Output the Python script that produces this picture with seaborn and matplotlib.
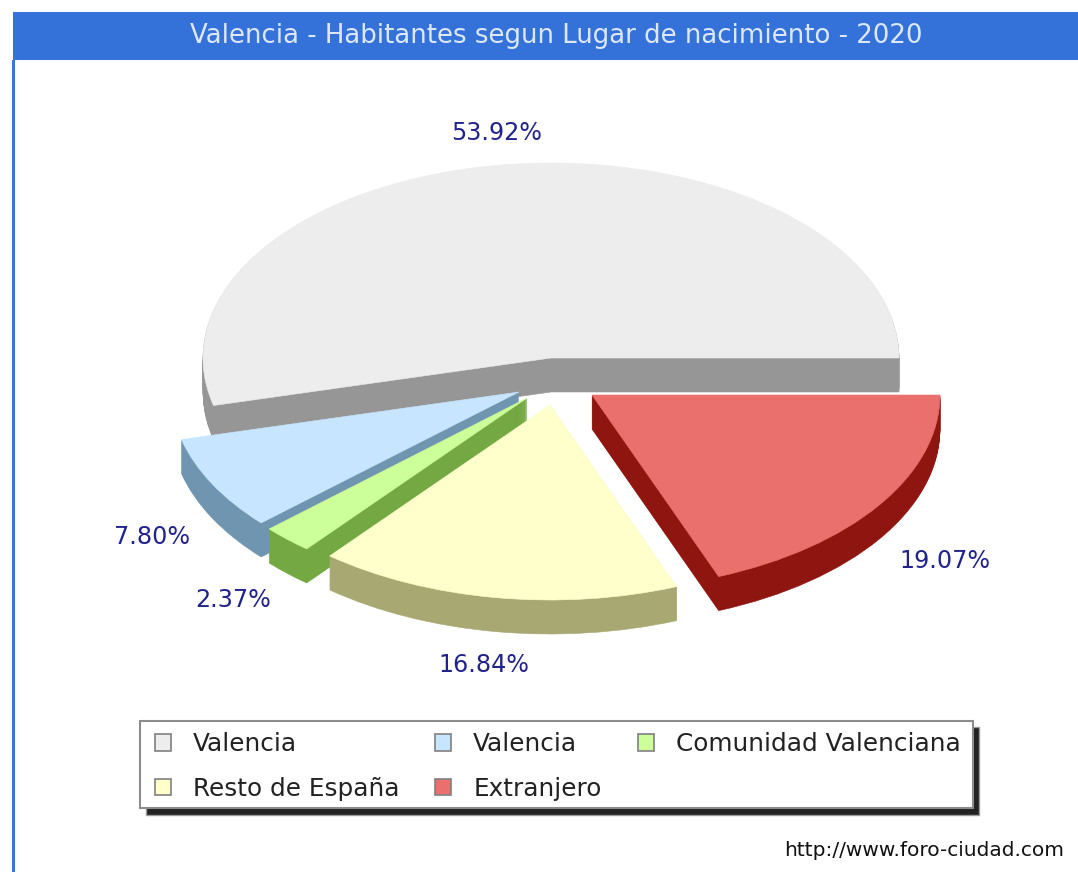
"""
Valencia - habitantes segun lugar de nacimiento, 3D looking pie
"""

import matplotlib
matplotlib.use("Agg")
import matplotlib.pyplot as plt
from matplotlib.patches import Rectangle
import seaborn as sns

TITLE = "Valencia - Habitantes segun Lugar de nacimiento - 2020"
categories = ["Valencia", "Valencia", "Comunidad Valenciana", "Resto de España", "Extranjero"]
values = [53.92, 7.80, 2.37, 16.84, 19.07]

top_colors = ["#EDEDED", "#C8E5FF", "#CCFF99", "#FFFFCC", "#E9706C"]
side_colors = ["#969696", "#7095B0", "#74A843", "#A8A872", "#8F1510"]

W, H = 1078, 872
CX, CY = 551, 358      # pixel position of the un-exploded pie centre
RX, RY = 348, 195      # ellipse radii in pixels
DEPTH = 34

# pixel position of each slice tip, label centres
tips = [(551, 358), (519, 392), (527, 398), (550, 405), (592, 395)]
label_pos = [(497, 133), (152, 537), (233, 600), (484, 665), (945, 561)]

sns.set_theme(style="white")
plt.rcParams["font.family"] = ["DejaVu Sans"]

fig = plt.figure(figsize=(W / 100, H / 100), dpi=100, facecolor="white")
ax = fig.add_axes([0, 0, 1, 1])


def add_box(x0, y0, x1, y1, **kw):
    fig.add_artist(Rectangle((x0 / W, 1 - y1 / H), (x1 - x0) / W, (y1 - y0) / H,
                             transform=fig.transFigure, **kw))


offsets = [((x - CX) / RX, (CY - y) / RY) for x, y in tips]

# stack of dark pies for the extruded sides, then the top faces
for d in range(DEPTH, -1, -1):
    colors = sns.color_palette(top_colors if d == 0 else side_colors)
    wedges, _ = ax.pie(values, colors=colors, startangle=0, counterclock=True,
                       wedgeprops={"linewidth": 0})
    for i, w in enumerate(wedges):
        w.set_center((offsets[i][0], offsets[i][1] - d / RY))
        w.set_zorder(i + 1 + (0.5 if d == 0 else 0))
        w.set_edgecolor(colors[i])
        w.set_linewidth(0.4)

ax.set_aspect("auto")
ax.set_xlim(-CX / RX, (W - CX) / RX)
ax.set_ylim(-(H - CY) / RY, CY / RY)
ax.axis("off")

# header band and left border
add_box(13, 12, W, 60, facecolor="#3472DA", edgecolor="none")
add_box(12, 60, 15, H, facecolor="#3A75DE", edgecolor="none")
fig.text(556.5 / W, 1 - 36 / H, TITLE, color="#DCE7F8", fontsize=18.75, ha="center", va="center")

# percent labels
for v, (x, y) in zip(values, label_pos):
    fig.text(x / W, 1 - y / H, f"{v:.2f}%", color="#22228C", fontsize=17.2, ha="center", va="center")

# legend frame with hard shadow
add_box(146, 727, 979, 815, facecolor="#222222", edgecolor="#999999", linewidth=1, zorder=5)
add_box(140, 721, 973, 808, facecolor="white", edgecolor="#8C8C8C", linewidth=1.5, zorder=6)

order = [0, 3, 1, 4, 2]
handles = [Rectangle((0, 0), 1, 1, facecolor=top_colors[i], edgecolor="#808080", linewidth=1.2) for i in order]
leg = fig.legend(handles, [categories[i] for i in order], ncol=3, frameon=False,
                 loc="upper left", bbox_to_anchor=(154.5 / W, 1 - 732 / H), borderaxespad=0,
                 fontsize=17.8, labelcolor="#222222", handlelength=0.65, handleheight=0.65,
                 handletextpad=0.89, columnspacing=1.46, labelspacing=0.84, borderpad=0)
leg.set_zorder(7)

fig.text(1064 / W, 1 - 850 / H, "http://www.foro-ciudad.com", color="#111111",
         fontsize=14.5, ha="right", va="center")

plt.savefig("out.png", dpi=100)
